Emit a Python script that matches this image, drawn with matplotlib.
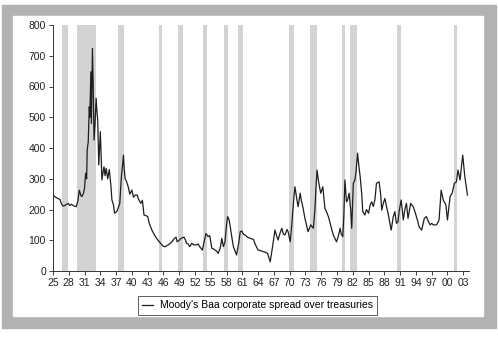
import matplotlib.pyplot as plt
from matplotlib.patches import Rectangle

# spread readings (basis points), year as decimal
years = [
    1925.0, 1925.5, 1926.0, 1926.3, 1926.7, 1927.0, 1927.4, 1927.9, 1928.2, 1928.5,
    1928.9, 1929.4, 1929.7, 1930.0, 1930.3, 1930.5, 1930.8, 1931.0, 1931.2, 1931.4,
    1931.5, 1931.7, 1931.9, 1932.0, 1932.2, 1932.3, 1932.5, 1932.65, 1932.8, 1933.0,
    1933.2, 1933.35, 1933.5, 1933.7, 1933.85, 1934.0, 1934.3, 1934.5, 1934.7, 1934.9,
    1935.1, 1935.4, 1935.7, 1936.0, 1936.2, 1936.5, 1936.7, 1937.1, 1937.4, 1937.7,
    1938.0, 1938.2, 1938.4, 1938.55, 1938.7, 1939.0, 1939.3, 1939.6, 1940.0, 1940.3,
    1940.6, 1941.0, 1941.3, 1941.7, 1942.0, 1942.3, 1942.7, 1943.0, 1943.3, 1943.8,
    1944.2, 1944.7, 1945.2, 1945.7, 1946.0, 1946.3, 1946.9, 1947.3, 1947.6, 1948.1,
    1948.4, 1948.6, 1949.0, 1949.3, 1949.9, 1950.2, 1950.4, 1950.7, 1951.0, 1951.4,
    1951.7, 1952.3, 1952.6, 1952.9, 1953.4, 1953.8, 1954.1, 1954.5, 1954.8, 1955.2,
    1955.5, 1955.8, 1956.1, 1956.4, 1956.8, 1957.1, 1957.4, 1957.7, 1958.0, 1958.2,
    1958.5, 1958.7, 1959.0, 1959.3, 1959.6, 1959.9, 1960.3, 1960.6, 1960.9, 1961.2,
    1961.5, 1962.0, 1962.5, 1963.1, 1963.5, 1964.0, 1964.5, 1965.0, 1965.5, 1965.8,
    1966.3, 1966.7, 1967.2, 1967.5, 1967.8, 1968.2, 1968.5, 1968.8, 1969.1, 1969.5,
    1969.7, 1970.1, 1970.4, 1970.6, 1970.8, 1971.0, 1971.3, 1971.6, 1972.0, 1972.2,
    1972.5, 1972.9, 1973.2, 1973.5, 1974.0, 1974.5, 1974.8, 1975.0, 1975.2, 1975.5,
    1975.9, 1976.3, 1976.7, 1977.0, 1977.4, 1977.7, 1978.0, 1978.3, 1978.9, 1979.2,
    1979.6, 1979.8, 1980.1, 1980.3, 1980.5, 1980.8, 1981.0, 1981.3, 1981.6, 1981.8,
    1982.1, 1982.4, 1982.6, 1982.9, 1983.1, 1983.4, 1983.7, 1983.9, 1984.3, 1984.6,
    1985.0, 1985.3, 1985.6, 1985.9, 1986.2, 1986.5, 1987.0, 1987.3, 1987.5, 1987.8,
    1988.1, 1988.4, 1988.7, 1989.0, 1989.3, 1989.7, 1990.0, 1990.3, 1990.6, 1990.8,
    1991.2, 1991.6, 1991.9, 1992.2, 1992.5, 1993.0, 1993.5, 1993.9, 1994.3, 1994.6,
    1995.1, 1995.6, 1996.0, 1996.4, 1996.7, 1997.0, 1997.3, 1997.9, 1998.2, 1998.4,
    1998.8, 1999.2, 1999.7, 2000.0, 2000.5, 2000.9, 2001.3, 2001.7, 2002.0, 2002.4,
    2002.6, 2002.9, 2003.3, 2003.8,
]
spread = [
    247, 240, 235, 233, 215, 211, 215, 220, 213, 217,
    212, 209, 225, 263, 245, 242, 253, 270, 318, 300,
    393, 420, 534, 500, 648, 480, 724, 600, 426, 480,
    562, 520, 491, 345, 400, 453, 296, 320, 339, 310,
    334, 300, 330, 280, 231, 215, 188, 193, 205, 220,
    307, 340, 377, 330, 301, 290, 274, 250, 263, 240,
    247, 247, 232, 220, 230, 182, 180, 177, 155, 133,
    120, 106, 95, 85, 80, 79, 85, 90, 95, 106,
    110, 95, 100, 106, 110, 100, 90, 88, 79, 90,
    85, 85, 88, 79, 68, 100, 122, 112, 115, 74,
    72, 68, 65, 57, 75, 106, 79, 95, 150, 177,
    165, 144, 110, 79, 65, 52, 90, 128, 130, 120,
    117, 110, 106, 103, 85, 68, 66, 63, 60, 57,
    30, 74, 133, 115, 101, 125, 139, 120, 117, 135,
    128, 95, 150, 193, 240, 274, 240, 209, 253, 230,
    209, 171, 150, 128, 150, 139, 200, 270, 328, 290,
    253, 274, 204, 193, 175, 155, 135, 117, 95, 110,
    139, 120, 112, 180, 296, 225, 230, 253, 200, 139,
    285, 296, 320, 383, 350, 307, 250, 193, 182, 200,
    188, 215, 225, 210, 231, 285, 290, 250, 198, 220,
    236, 210, 188, 160, 133, 177, 193, 155, 160, 193,
    231, 166, 200, 220, 171, 220, 209, 188, 165, 144,
    133, 171, 177, 160, 150, 155, 150, 150, 158, 166,
    263, 231, 215, 166, 242, 253, 285, 290, 328, 296,
    330, 377, 307, 247,
]

# NBER recessions (start, end)
rec_start = [1926.75, 1929.58, 1937.33, 1945.08, 1948.83, 1953.5, 1957.58,
             1960.25, 1969.92, 1973.83, 1980.0, 1981.5, 1990.5, 2001.17]
rec_end = [1927.83, 1933.17, 1938.42, 1945.75, 1949.75, 1954.33, 1958.25,
           1961.08, 1970.83, 1975.17, 1980.5, 1982.83, 1991.17, 2001.83]

tick_years = list(range(1925, 2004, 3))
tick_labels = ["%02d" % (y % 100) for y in tick_years]

plt.rcParams['font.family'] = ['Liberation Sans', 'DejaVu Sans']

W, H = 498, 338
fig = plt.figure(figsize=(W / 100, H / 100), dpi=100)

# grey frame around the plot panel
fig.patches.append(Rectangle((2 / W, 1 - 328 / H), 494 / W, 323 / H,
                             transform=fig.transFigure, color='#b2b2b2', zorder=-2))
fig.patches.append(Rectangle((13 / W, 1 - 316 / H), 470 / W, 300 / H,
                             transform=fig.transFigure, color='white', zorder=-1))

ax = fig.add_axes([53 / W, 1 - 271 / H, 415.5 / W, 246 / H])
ax.patch.set_alpha(0)

for s, e in zip(rec_start, rec_end):
    ax.axvspan(s, e, color='#d3d3d3', lw=0, zorder=1)

ax.plot(years, spread, color='#1e1e1e', lw=0.9, zorder=2,
        label="Moody's Baa corporate spread over treasuries")

ax.set_xlim(1925, 2004)
ax.set_ylim(0, 800)
ax.set_yticks(range(0, 801, 100))
ax.set_xticks(tick_years)
ax.set_xticklabels(tick_labels)
ax.tick_params(labelsize=7.5, length=3, width=0.6, pad=2, colors='#222222')
for side in ('top', 'right'):
    ax.spines[side].set_visible(False)
for side in ('left', 'bottom'):
    ax.spines[side].set_linewidth(0.7)
    ax.spines[side].set_color('#333333')

leg = fig.legend(loc='center', bbox_to_anchor=(257.5 / W, 1 - 305.5 / H),
                 fontsize=7.5, frameon=True, fancybox=False, handlelength=1.0,
                 borderpad=0.4, handletextpad=0.7)
leg.get_frame().set_edgecolor('#333333')
leg.get_frame().set_linewidth(0.7)

fig.savefig("out.png", dpi=100)
